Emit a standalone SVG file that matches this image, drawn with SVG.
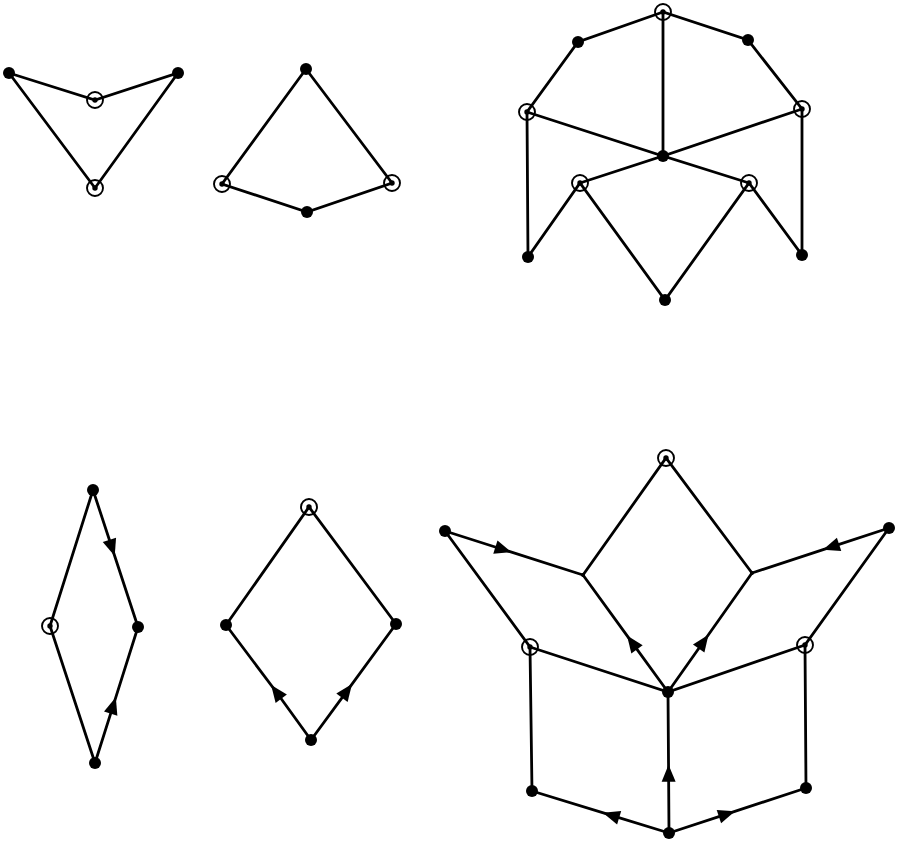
<svg xmlns="http://www.w3.org/2000/svg" width="898" height="843" viewBox="0 0 898 843">
<defs>
<style>
.e{fill:none;stroke:#000;stroke-width:2.8;stroke-linecap:round}
.a{marker-mid:url(#arr)}
.d{fill:#000}
.ring{fill:none;stroke:#000;stroke-width:1.9}
</style>
<marker id="arr" markerUnits="userSpaceOnUse" markerWidth="24" markerHeight="24" viewBox="-12 -12 24 24" refX="0" refY="0" orient="auto">
<path d="M -8 -7 L 9 0 L -8 7 Z" fill="#000"/>
</marker>
</defs>
<rect width="898" height="843" fill="#fff"/>
<g id="connectors">
<path class="e" d="M9 73 L95 100 L178 73 L95 188 Z"/>
<path class="e" d="M306 69 L222 184 L307 212 L392 183 Z"/>
<path class="e" d="M663 12 L578 42 L527 112 L528 257 L580 183 L665 300 L749 183 L802 255 L802 109 L748 40 Z"/>
<path class="e" d="M663 12 L663 156"/>
<path class="e" d="M527 112 L663 156 L802 109"/>
<path class="e" d="M580 183 L663 156 L749 183"/>
<path class="e" d="M93 490 L50 626 L95 763"/>
<path class="e a" d="M93 490 L111.9 547.5 L138 627"/>
<path class="e a" d="M95 763 L113.1 705.9 L138 627"/>
<path class="e" d="M226 625 L309 507 L396 624"/>
<path class="e a" d="M311 740 L276.5 692.3 L226 625"/>
<path class="e a" d="M311 740 L346.7 691.3 L396 624"/>
<path class="e" d="M583 575 L666 458 L752 573"/>
<path class="e a" d="M445 531 L503 549.5 L583 575"/>
<path class="e a" d="M889 528 L831.5 546.9 L752 573"/>
<path class="e a" d="M668 692 L632.3 642.9 L583 575"/>
<path class="e a" d="M668 692 L703.3 642 L752 573"/>
<path class="e" d="M445 531 L530 647 L532 791"/>
<path class="e" d="M889 528 L805 645 L806 788"/>
<path class="e" d="M530 647 L668 692 L805 645"/>
<path class="e a" d="M669 833 L668.6 773.8 L668 692"/>
<path class="e a" d="M669 833 L611.5 815.4 L532 791"/>
<path class="e a" d="M669 833 L726.5 814.1 L806 788"/>
</g>
<g id="g1-left"><circle class="d" cx="9" cy="73" r="6"/></g>
<g id="g1-right"><circle class="d" cx="178" cy="73" r="6"/></g>
<g id="g1-mid"><circle class="ring" cx="95" cy="100" r="8"/><circle class="d" cx="95" cy="100" r="2.7"/></g>
<g id="g1-bottom"><circle class="ring" cx="95" cy="188" r="8"/><circle class="d" cx="95" cy="188" r="2.7"/></g>
<g id="g2-top"><circle class="d" cx="306" cy="69" r="6"/></g>
<g id="g2-left"><circle class="ring" cx="222" cy="184" r="8"/><circle class="d" cx="222" cy="184" r="2.7"/></g>
<g id="g2-right"><circle class="ring" cx="392" cy="183" r="8"/><circle class="d" cx="392" cy="183" r="2.7"/></g>
<g id="g2-bottom"><circle class="d" cx="307" cy="212" r="6"/></g>
<g id="g3-top"><circle class="ring" cx="663" cy="12" r="8"/><circle class="d" cx="663" cy="12" r="2.7"/></g>
<g id="g3-ul"><circle class="d" cx="578" cy="42" r="6"/></g>
<g id="g3-ur"><circle class="d" cx="748" cy="40" r="6"/></g>
<g id="g3-left"><circle class="ring" cx="527" cy="112" r="8"/><circle class="d" cx="527" cy="112" r="2.7"/></g>
<g id="g3-right"><circle class="ring" cx="802" cy="109" r="8"/><circle class="d" cx="802" cy="109" r="2.7"/></g>
<g id="g3-center"><circle class="d" cx="663" cy="156" r="6"/></g>
<g id="g3-ll"><circle class="ring" cx="580" cy="183" r="8"/><circle class="d" cx="580" cy="183" r="2.7"/></g>
<g id="g3-lr"><circle class="ring" cx="749" cy="183" r="8"/><circle class="d" cx="749" cy="183" r="2.7"/></g>
<g id="g3-bl"><circle class="d" cx="528" cy="257" r="6"/></g>
<g id="g3-br"><circle class="d" cx="802" cy="255" r="6"/></g>
<g id="g3-bottom"><circle class="d" cx="665" cy="300" r="6"/></g>
<g id="g4-top"><circle class="d" cx="93" cy="490" r="6"/></g>
<g id="g4-left"><circle class="ring" cx="50" cy="626" r="8"/><circle class="d" cx="50" cy="626" r="2.7"/></g>
<g id="g4-right"><circle class="d" cx="138" cy="627" r="6"/></g>
<g id="g4-bottom"><circle class="d" cx="95" cy="763" r="6"/></g>
<g id="g5-top"><circle class="ring" cx="309" cy="507" r="8"/><circle class="d" cx="309" cy="507" r="2.7"/></g>
<g id="g5-left"><circle class="d" cx="226" cy="625" r="6"/></g>
<g id="g5-right"><circle class="d" cx="396" cy="624" r="6"/></g>
<g id="g5-bottom"><circle class="d" cx="311" cy="740" r="6"/></g>
<g id="g6-top"><circle class="ring" cx="666" cy="458" r="8"/><circle class="d" cx="666" cy="458" r="2.7"/></g>
<g id="g6-leftdot"><circle class="d" cx="445" cy="531" r="6"/></g>
<g id="g6-rightdot"><circle class="d" cx="889" cy="528" r="6"/></g>
<g id="g6-midleft"><circle class="d" cx="583" cy="575" r="2"/></g>
<g id="g6-midright"><circle class="d" cx="752" cy="573" r="2"/></g>
<g id="g6-leftcirc"><circle class="ring" cx="530" cy="647" r="8"/><circle class="d" cx="530" cy="647" r="2.7"/></g>
<g id="g6-rightcirc"><circle class="ring" cx="805" cy="645" r="8"/><circle class="d" cx="805" cy="645" r="2.7"/></g>
<g id="g6-center"><circle class="d" cx="668" cy="692" r="6"/></g>
<g id="g6-bl"><circle class="d" cx="532" cy="791" r="6"/></g>
<g id="g6-br"><circle class="d" cx="806" cy="788" r="6"/></g>
<g id="g6-bottom"><circle class="d" cx="669" cy="833" r="6"/></g>
</svg>
